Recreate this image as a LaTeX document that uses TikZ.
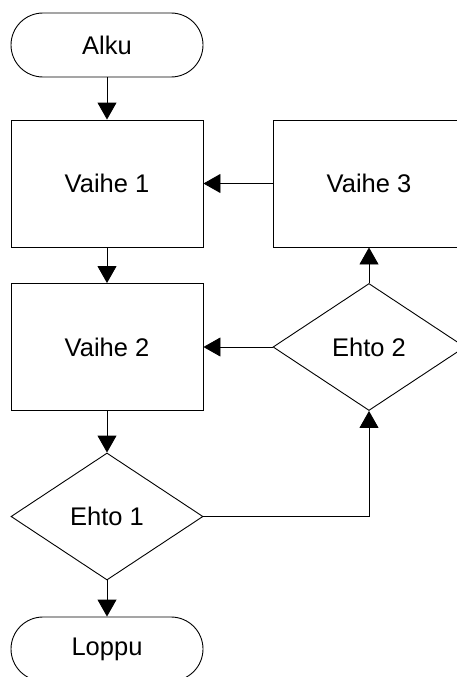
\documentclass[tikz,border=0pt]{standalone}
\usepackage{fontspec}
\setmainfont{Liberation Sans}
\usetikzlibrary{shapes.geometric,arrows.meta}
\begin{document}
\begin{tikzpicture}[x=1pt,y=-1pt,
    every node/.style={font=\fontsize{25.5}{30}\selectfont},
    terminal/.style={draw,line width=0.9pt,rectangle,rounded corners=32pt,minimum width=192pt,minimum height=64pt,inner sep=0pt},
    process/.style={draw,line width=0.9pt,rectangle,minimum width=192pt,minimum height=127pt,inner sep=0pt},
    decision/.style={draw,line width=0.9pt,diamond,aspect=1.5,minimum width=192pt,minimum height=127pt,inner sep=0pt},
    flow/.style={line width=0.9pt,-{Triangle[length=17pt,width=19pt]}}]
    \useasboundingbox (0,0) rectangle (457,677);
    \node[terminal] (alku) at (107,45) {Alku};
    \node[process] (vaihe1) at (107,183.5) {Vaihe 1};
    \node[process] (vaihe3) at (369,183.5) {Vaihe 3};
    \node[process] (vaihe2) at (107,347) {Vaihe 2};
    \node[decision] (ehto2) at (369,347) {Ehto 2};
    \node[decision] (ehto1) at (107,516.5) {Ehto 1};
    \node[terminal] (loppu) at (107,649) {Loppu};
    \draw[flow] (alku)--(vaihe1);
    \draw[flow] (vaihe1)--(vaihe2);
    \draw[flow] (vaihe2)--(ehto1);
    \draw[flow] (ehto1)--(loppu);
    \draw[flow] (ehto1.east)-|(ehto2.south);
    \draw[flow] (ehto2.north)--(vaihe3.south);
    \draw[flow] (vaihe3)--(vaihe1);
    \draw[flow] (ehto2)--(vaihe2);
\end{tikzpicture}
\end{document}
